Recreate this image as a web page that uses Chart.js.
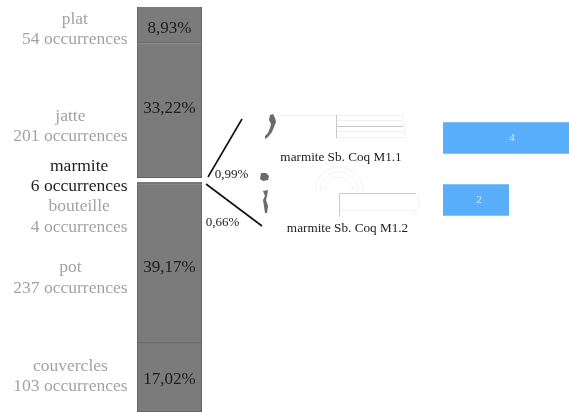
<!DOCTYPE html>
<html>
<head>
<meta charset="utf-8">
<script src="https://cdn.jsdelivr.net/npm/chart.js@4"></script>
<style>
  html, body { margin: 0; padding: 0; background: #fff; overflow: hidden; width: 569px; height: 412px; }
  #mainBox { position: absolute; left: 0; top: 0; width: 569px; height: 412px; }
  #typeBox { position: absolute; left: 443px; top: 107px; width: 132px; height: 124px; }
</style>
</head>
<body>
<div id="mainBox"><canvas id="mainChart"></canvas></div>
<div id="typeBox"><canvas id="typeChart"></canvas></div>
<script>
// composition du corpus
var categories = ['plat', 'jatte', 'marmite', 'bouteille', 'pot', 'couvercles'];
var occurrences = [54, 201, 6, 4, 237, 103];
var percents = ['8,93%', '33,22%', '', '', '39,17%', '17,02%'];
var sideLabels = ['54 occurrences', '201 occurrences', '6 occurrences', '4 occurrences', '237 occurrences', '103 occurrences'];

// types de marmite
var types = ['marmite Sb. Coq M1.1', 'marmite Sb. Coq M1.2'];
var typeCounts = [4, 2];

var serif = '"Liberation Serif", serif';
var grey = '#7b7b7b';
var edge = '#5f5f5f';
var labelGrey = '#a3a3a3';

// hauteur du texte, pas calculee depuis les segments
var nameY = [19, 116, 166, 206, 267, 366];
var countY = [39, 136, 186, 227, 288, 386];
var percentY = [29, 109, 0, 0, 268, 380];

function text(ctx, str, x, y, font, color, align) {
  ctx.font = font;
  ctx.fillStyle = color;
  ctx.textAlign = align || 'center';
  ctx.textBaseline = 'middle';
  ctx.fillText(str, x, y);
}

function line(ctx, x1, y1, x2, y2) {
  ctx.beginPath();
  ctx.moveTo(x1, y1);
  ctx.lineTo(x2, y2);
  ctx.stroke();
}

function blob(ctx, pts) {
  ctx.beginPath();
  ctx.moveTo(pts[0][0], pts[0][1]);
  for (var i = 1; i < pts.length; i++) ctx.lineTo(pts[i][0], pts[i][1]);
  ctx.closePath();
  ctx.fill();
}

// profils de ceramique (illustrations)
function drawSketches(ctx) {
  ctx.save();
  ctx.fillStyle = '#6a6a6a';
  blob(ctx, [[270,115],[273,114],[275,118],[276,122],[274,127],[272,132],[268,137],[265,139],[265,136],[268,133],[270,128],[271,124],[269,120]]);
  blob(ctx, [[261,173],[266,173],[269,176],[268,180],[263,181],[260,179]]);
  blob(ctx, [[263,191],[268,190],[267,196],[266,200],[268,206],[267,213],[265,213],[264,206],[263,200],[265,196]]);

  ctx.strokeStyle = '#f0f0f0';
  ctx.lineWidth = 1;
  line(ctx, 276, 115.5, 336, 115.5);
  line(ctx, 336, 115.5, 403, 115.5);
  line(ctx, 336, 120.5, 402, 120.5);
  line(ctx, 336, 131.5, 404, 131.5);
  line(ctx, 336, 137.5, 404, 137.5);
  line(ctx, 403, 115, 405, 138);
  ctx.strokeStyle = '#c8c8c8';
  line(ctx, 336.5, 115, 336.5, 138);
  line(ctx, 336, 126.5, 403, 126.5);

  ctx.strokeStyle = '#f2f2f2';
  ctx.beginPath();
  ctx.arc(339, 191, 24, Math.PI, 2 * Math.PI);
  ctx.stroke();
  ctx.beginPath();
  ctx.arc(339, 191, 19, Math.PI, 2 * Math.PI);
  ctx.stroke();
  ctx.beginPath();
  ctx.arc(339, 191, 14, Math.PI, 2 * Math.PI);
  ctx.stroke();
  line(ctx, 340, 210.5, 416, 210.5);
  line(ctx, 418, 195, 420, 205);
  line(ctx, 420, 205, 412, 218);
  ctx.strokeStyle = '#cacaca';
  line(ctx, 339, 193.5, 416, 193.5);
  line(ctx, 339.5, 193, 339.5, 217);
  ctx.restore();
}

var annotationPlugin = {
  id: 'annotations',
  afterDatasetsDraw: function(chart) {
    var ctx = chart.ctx;
    var area = chart.chartArea;
    var i;
    ctx.save();
    for (i = 0; i < categories.length; i++) {
      var hi = categories[i] === 'marmite';
      var color = hi ? '#222222' : labelGrey;
      var font = '17.5px ' + serif;
      ctx.font = font;
      var w = ctx.measureText(sideLabels[i]).width;
      var cx = 127.5 - w / 2;
      text(ctx, categories[i], cx, nameY[i], font, color);
      text(ctx, sideLabels[i], cx, countY[i], font, color);
      if (percents[i]) {
        text(ctx, percents[i], (area.left + area.right) / 2, percentY[i], '17px ' + serif, '#1c1c1c');
      }
    }

    ctx.strokeStyle = '#111111';
    ctx.lineWidth = 1.6;
    line(ctx, 208, 177, 242, 119);
    line(ctx, 206, 184, 262, 226);
    text(ctx, '0,99%', 231.5, 174.5, '13px ' + serif, '#222222');
    text(ctx, '0,66%', 222.5, 223, '13px ' + serif, '#222222');
    text(ctx, types[0], 341, 158, '13.2px ' + serif, '#222222');
    text(ctx, types[1], 347.5, 229, '13.2px ' + serif, '#222222');
    drawSketches(ctx);
    ctx.restore();
  }
};

var barValuePlugin = {
  id: 'barValues',
  afterDatasetsDraw: function(chart) {
    var meta = chart.getDatasetMeta(0);
    meta.data.forEach(function(bar, i) {
      text(chart.ctx, String(typeCounts[i]), (bar.x + bar.base) / 2 + 3, bar.y, '11px ' + serif, '#d5ebff');
    });
  }
};

function printMain() {
  var datasets = categories.map(function(name, i) {
    return {
      label: name,
      data: [occurrences[i]],
      backgroundColor: name === 'marmite' ? '#ffffff' : grey,
      borderColor: edge,
      borderWidth: name === 'marmite' ? 0 : 1,
      barPercentage: 1,
      categoryPercentage: 1,
      stack: 'corpus'
    };
  });
  new Chart(document.getElementById('mainChart'), {
    type: 'bar',
    data: { labels: ['corpus'], datasets: datasets },
    options: {
      responsive: true,
      maintainAspectRatio: false,
      animation: false,
      layout: { padding: { left: 137, right: 367, top: 7, bottom: 0 } },
      plugins: { legend: { display: false }, tooltip: { enabled: false } },
      scales: {
        x: { display: false, stacked: true },
        y: { display: false, stacked: true, reverse: true, min: 0, max: 605 }
      }
    },
    plugins: [annotationPlugin]
  });
}

function printTypes() {
  new Chart(document.getElementById('typeChart'), {
    type: 'bar',
    data: {
      labels: types,
      datasets: [{
        data: typeCounts,
        backgroundColor: '#5aaffb',
        barPercentage: 0.51,
        categoryPercentage: 1
      }]
    },
    options: {
      indexAxis: 'y',
      responsive: true,
      maintainAspectRatio: false,
      animation: false,
      layout: { padding: 0 },
      plugins: { legend: { display: false }, tooltip: { enabled: false } },
      scales: {
        x: { display: false, min: 0, max: 4 },
        y: { display: false }
      }
    },
    plugins: [barValuePlugin]
  });
}

printMain();
printTypes();
</script>
</body>
</html>
